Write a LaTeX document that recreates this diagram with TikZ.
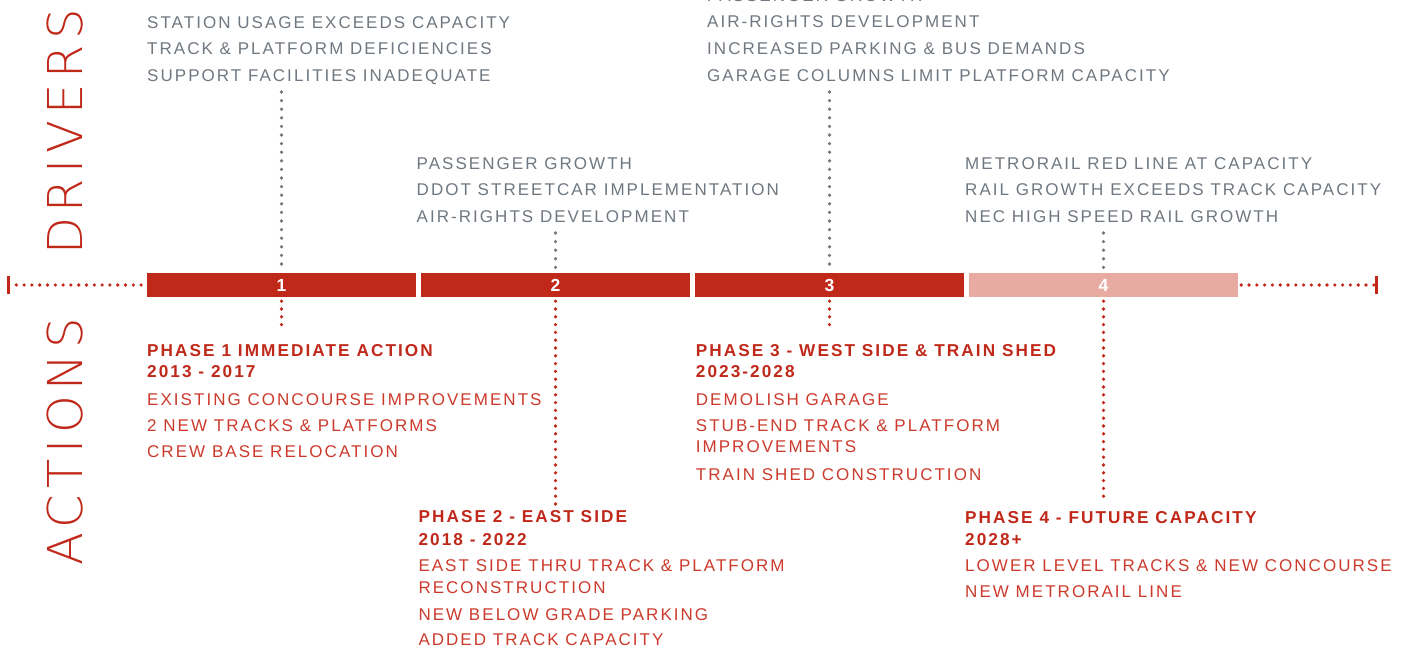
\documentclass[tikz,border=0pt]{standalone}
\usepackage{fontspec}
\setmainfont{Liberation Sans}
\newfontfamily\txtfont[LetterSpace=12]{Liberation Sans}
\newfontfamily\hdfont[LetterSpace=12]{Liberation Sans}
\newfontfamily\bigfont[LetterSpace=12]{DejaVu Sans ExtraLight}
\definecolor{barred}{HTML}{C0281A}
\definecolor{barpink}{HTML}{E8ABA2}
\definecolor{itemred}{HTML}{CC3A2C}
\definecolor{drvgrey}{HTML}{6F7780}
\begin{document}
\begin{tikzpicture}[x=1pt,y=-1pt,
  bar/.style={fill=barred, minimum width=269pt, minimum height=24pt, inner sep=0pt, text=white, font=\hdfont\bfseries\fontsize{17.5}{20}\selectfont},
  drv/.style={anchor=base west, inner sep=0pt, text=drvgrey, font=\txtfont\fontsize{17}{20}\selectfont},
  act/.style={anchor=base west, inner sep=0pt, text=itemred, font=\txtfont\fontsize{17}{20}\selectfont},
  hd/.style={anchor=base west, inner sep=0pt, text=barred, font=\hdfont\bfseries\fontsize{17.2}{20}\selectfont},
  big/.style={anchor=base west, inner sep=0pt, rotate=90, text=barred, font=\bigfont\fontsize{48}{50}\selectfont},
  gdots/.style={draw=drvgrey, line width=3.6pt, line cap=round, dash pattern=on 0pt off 8.6pt},
  rdots/.style={draw=barred, line width=3.6pt, line cap=round, dash pattern=on 0pt off 7.8pt},
  tick/.style={draw=barred, line width=3.5pt}
]
\useasboundingbox (0,0) rectangle (1408,652);

% side labels
\node[big] (drivers) at (82,255) {DRIVERS};
\node[big] (actions) at (82,566) {ACTIONS};

% timeline bars
\node[bar] (b1) at (281.5,285) {1};
\node[bar] (b2) at (555.5,285) {2};
\node[bar] (b3) at (829.5,285) {3};
\node[bar, fill=barpink] (b4) at (1103.5,285) {4};

% timeline ends
\coordinate (L) at (8.5,285);
\coordinate (R) at (1376.5,285);
\draw[rdots] (L) -- (b1.west);
\draw[rdots] ([xshift=3pt]b4.east) -- (R);
\draw[tick] ([yshift=9pt]L) -- ([yshift=-9pt]L);
\draw[tick] ([yshift=9pt]R) -- ([yshift=-9pt]R);

% drivers text
\node[drv] (d1a) at (147,28.3) {STATION USAGE EXCEEDS CAPACITY};
\node[drv] (d1b) at (147,55) {TRACK \& PLATFORM DEFICIENCIES};
\node[drv] (d1c) at (147,81.7) {SUPPORT FACILITIES INADEQUATE};

\node[drv] (d2a) at (416.5,169.3) {PASSENGER GROWTH};
\node[drv] (d2b) at (416.5,196) {DDOT STREETCAR IMPLEMENTATION};
\node[drv] (d2c) at (416.5,222.7) {AIR-RIGHTS DEVELOPMENT};

\node[drv] (d3a) at (707,1.3) {PASSENGER GROWTH};
\node[drv] (d3b) at (707,28) {AIR-RIGHTS DEVELOPMENT};
\node[drv] (d3c) at (707,54.7) {INCREASED PARKING \& BUS DEMANDS};
\node[drv] (d3d) at (707,81.3) {GARAGE COLUMNS LIMIT PLATFORM CAPACITY};

\node[drv] (d4a) at (965,169.3) {METRORAIL RED LINE AT CAPACITY};
\node[drv] (d4b) at (965,196) {RAIL GROWTH EXCEEDS TRACK CAPACITY};
\node[drv] (d4c) at (965,222.7) {NEC HIGH SPEED RAIL GROWTH};

% driver connectors
\coordinate (t1) at (281.5,92);
\coordinate (t2) at (555.5,233);
\coordinate (t3) at (829.5,92);
\coordinate (t4) at (1103.5,233);
\draw[gdots] (t1) -- ([yshift=2pt]b1.north);
\draw[gdots] (t2) -- ([yshift=2pt]b2.north);
\draw[gdots] (t3) -- ([yshift=2pt]b3.north);
\draw[gdots] (t4) -- ([yshift=2pt]b4.north);

% action connectors
\coordinate (a1) at (281.5,332);
\coordinate (a2) at (555.5,505);
\coordinate (a3) at (829.5,332);
\coordinate (a4) at (1103.5,500);
\draw[rdots] ([yshift=-4pt]b1.south) -- (a1);
\draw[rdots] ([yshift=-4pt]b2.south) -- (a2);
\draw[rdots] ([yshift=-4pt]b3.south) -- (a3);
\draw[rdots] ([yshift=-4pt]b4.south) -- (a4);

% actions text
\node[hd] (h1a) at (147,356) {PHASE 1 IMMEDIATE ACTION};
\node[hd] (h1b) at (147,377.7) {2013 - 2017};
\node[act] (p1a) at (147,405.3) {EXISTING CONCOURSE IMPROVEMENTS};
\node[act] (p1b) at (147,431) {2 NEW TRACKS \& PLATFORMS};
\node[act] (p1c) at (147,457.7) {CREW BASE RELOCATION};

\node[hd] (h2a) at (418.3,522.7) {PHASE 2 - EAST SIDE};
\node[hd] (h2b) at (418.3,545) {2018 - 2022};
\node[act] (p2a) at (418.3,571) {EAST SIDE THRU TRACK \& PLATFORM};
\node[act] (p2b) at (418.3,593.3) {RECONSTRUCTION};
\node[act] (p2c) at (418.3,620) {NEW BELOW GRADE PARKING};
\node[act] (p2d) at (418.3,645.7) {ADDED TRACK CAPACITY};

\node[hd] (h3a) at (695.7,356) {PHASE 3 - WEST SIDE \& TRAIN SHED};
\node[hd] (h3b) at (695.7,377.7) {2023-2028};
\node[act] (p3a) at (695.7,405) {DEMOLISH GARAGE};
\node[act] (p3b) at (695.7,431) {STUB-END TRACK \& PLATFORM};
\node[act] (p3c) at (695.7,452.7) {IMPROVEMENTS};
\node[act] (p3d) at (695.7,480) {TRAIN SHED CONSTRUCTION};

\node[hd] (h4a) at (965,523.3) {PHASE 4 - FUTURE CAPACITY};
\node[hd] (h4b) at (965,545) {2028+};
\node[act] (p4a) at (965,571) {LOWER LEVEL TRACKS \& NEW CONCOURSE};
\node[act] (p4b) at (965,597.3) {NEW METRORAIL LINE};
\end{tikzpicture}
\end{document}
